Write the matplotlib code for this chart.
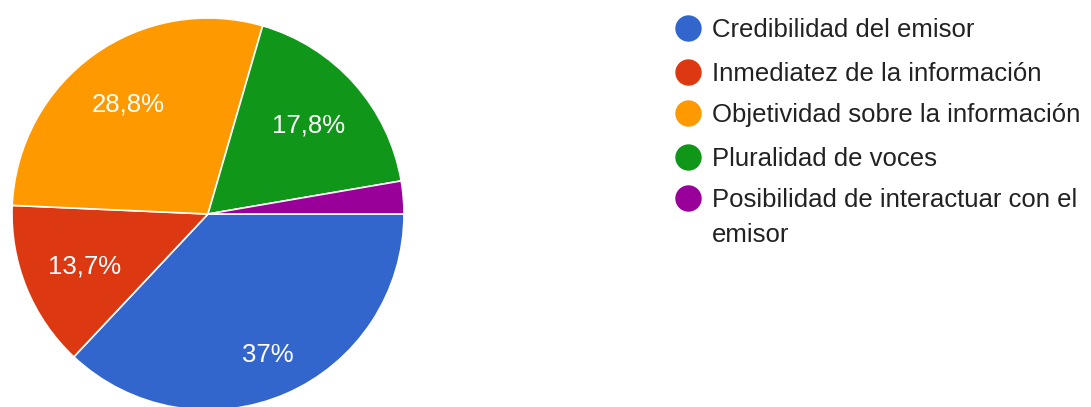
import textwrap
import numpy as np
import matplotlib
matplotlib.use("Agg")
import matplotlib.pyplot as plt

# Survey answers and their share of responses (%)
categories = [
    "Credibilidad del emisor",
    "Inmediatez de la información",
    "Objetividad sobre la información",
    "Pluralidad de voces",
    "Posibilidad de interactuar con el emisor",
]
shares = [37.0, 13.7, 28.8, 17.8, 2.7]
colors = ["#3366CC", "#DC3912", "#FF9900", "#109618", "#990099"]

# radial position of each percentage label (fraction of the radius)
label_r = [0.77, 0.68, 0.70, 0.69, 0.70]

W, H = 1091, 407
plt.rcParams["font.family"] = ["Liberation Sans", "DejaVu Sans"]

fig = plt.figure(figsize=(W / 100, H / 100), dpi=100)
ax = fig.add_axes([0, 0, 1, 1])

cx, cy, R = 208, H - 214, 196
wedges, _ = ax.pie(
    shares,
    colors=colors,
    startangle=0,
    counterclock=False,
    center=(cx, cy),
    radius=R,
    wedgeprops=dict(edgecolor="white", linewidth=1.2),
)


def fmt_pct(v):
    s = f"{v:.1f}"
    if s.endswith(".0"):
        s = s[:-2]
    return s.replace(".", ",") + "%"


fs = 18.5
for w, v, fr in zip(wedges, shares, label_r):
    if v < 5:
        continue
    mid = np.deg2rad((w.theta1 + w.theta2) / 2)
    x = cx + R * fr * np.cos(mid)
    y = cy + R * fr * np.sin(mid)
    ax.text(x, y - 9, fmt_pct(v), color="white", fontsize=fs,
            ha="center", va="baseline")

# legend drawn in pixel coordinates; long entries wrap onto a second line
row_y = [28, 72, 113, 157, 198]
line_gap = 35
for yy, lab, col in zip(row_y, categories, colors):
    ax.plot([688], [H - yy], marker="o", markersize=19, color=col,
            markeredgewidth=0, linestyle="none")
    for i, line in enumerate(textwrap.wrap(lab, 33)):
        ax.text(712, H - yy - 9 - i * line_gap, line, color="#222222",
                fontsize=fs, ha="left", va="baseline")

ax.set_xlim(0, W)
ax.set_ylim(0, H)
ax.set_aspect("equal")
ax.axis("off")

fig.savefig("out.png", dpi=100, facecolor="white")
